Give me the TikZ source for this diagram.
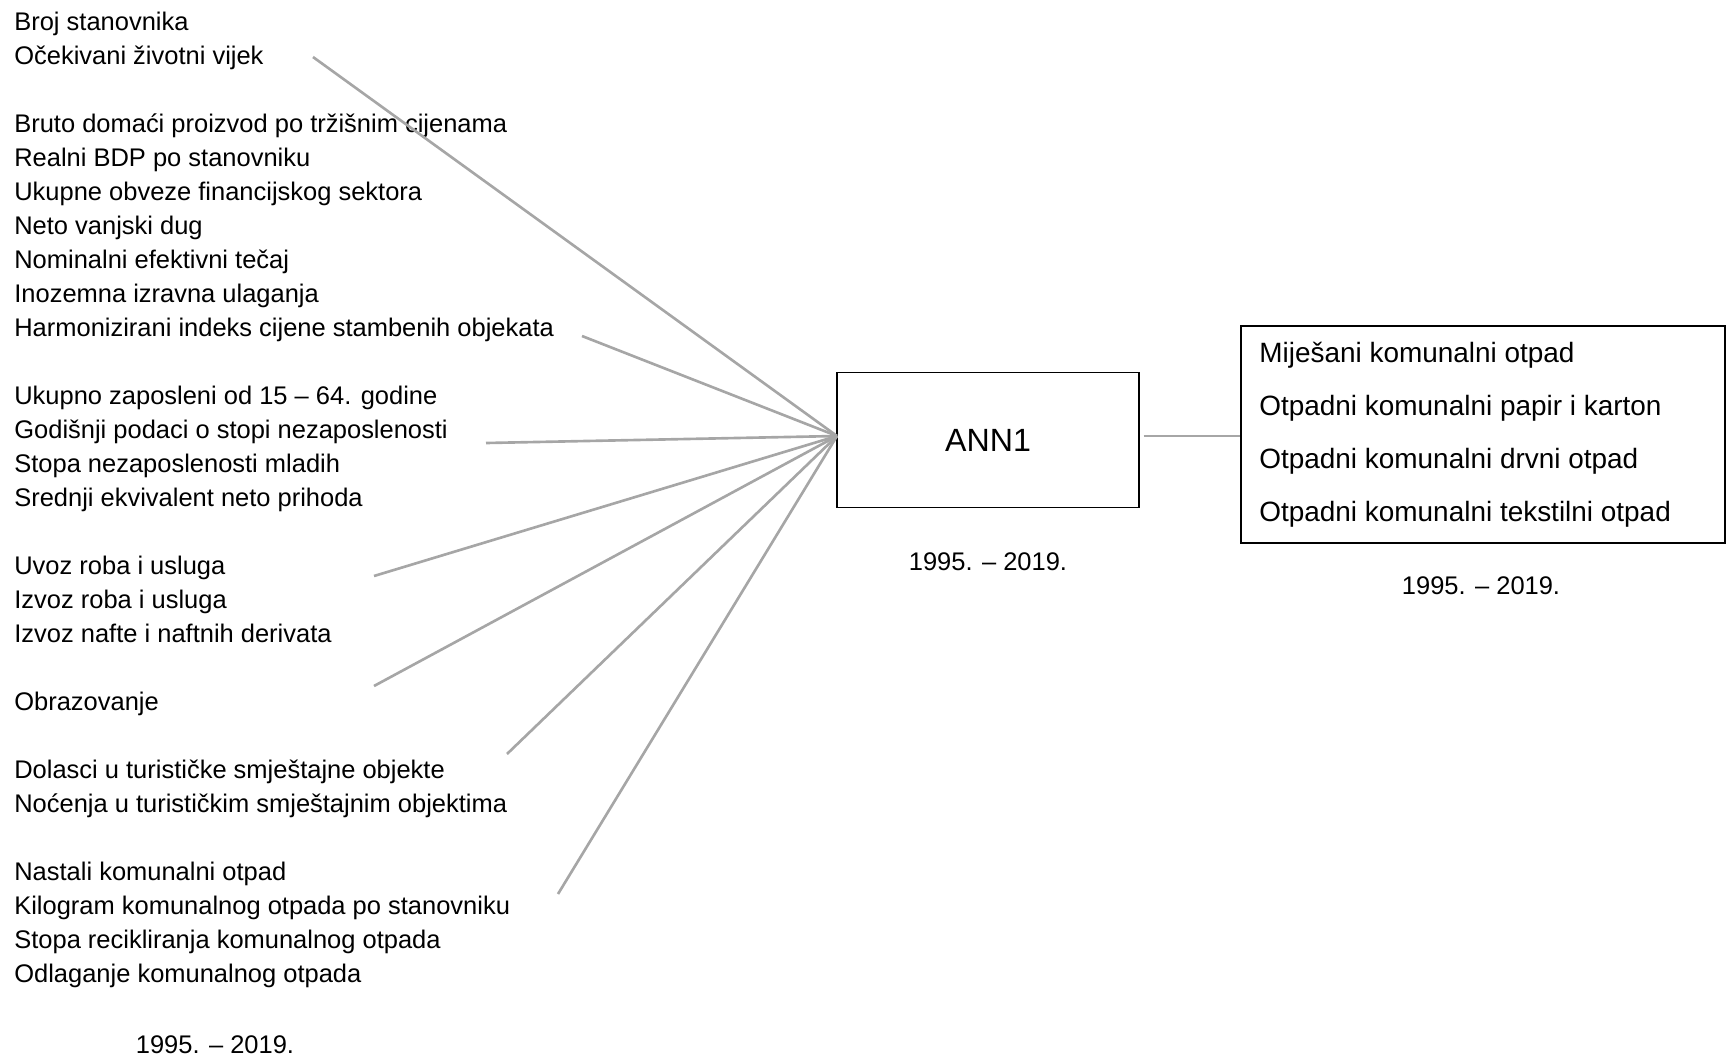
\documentclass[tikz,border=0pt]{standalone}
\usepackage{fontspec}
\setmainfont{Liberation Sans}
\usetikzlibrary{positioning}

\begin{document}
\begin{tikzpicture}[x=0.02cm, y=-0.02cm,
        group/.style={anchor=north west, align=left, inner sep=0pt, font=\fontsize{14.5}{19.35}\selectfont},
        period/.style={inner sep=0pt, font=\fontsize{14.5}{17}\selectfont},
        outvar/.style={anchor=west, inner sep=0pt, font=\fontsize{15.9}{19}\selectfont},
        link/.style={draw=gray!70, line width=1.5pt}]
        \useasboundingbox (0,0) rectangle (1727,1062);

        % input groups
        \node [group] (demog) at (14,6) {\strut Broj stanovnika\\Očekivani životni vijek};
        \node [group] (econ) at (14,108) {\strut Bruto domaći proizvod po tržišnim cijenama\\Realni BDP po stanovniku\\Ukupne obveze financijskog sektora\\Neto vanjski dug\\Nominalni efektivni tečaj\\Inozemna izravna ulaganja\\Harmonizirani indeks cijene stambenih objekata};
        \node [group] (labour) at (14,380) {\strut Ukupno zaposleni od 15 – 64. godine\\Godišnji podaci o stopi nezaposlenosti\\Stopa nezaposlenosti mladih\\Srednji ekvivalent neto prihoda};
        \node [group] (trade) at (14,550) {\strut Uvoz roba i usluga\\Izvoz roba i usluga\\Izvoz nafte i naftnih derivata};
        \node [group] (edu) at (14,686) {\strut Obrazovanje};
        \node [group] (tour) at (14,754) {\strut Dolasci u turističke smještajne objekte\\Noćenja u turističkim smještajnim objektima};
        \node [group] (waste) at (14,856) {\strut Nastali komunalni otpad\\Kilogram komunalnog otpada po stanovniku\\Stopa recikliranja komunalnog otpada\\Odlaganje komunalnog otpada};
        \node [period] (inyears) at (215,1045) {1995. – 2019.};

        % network
        \node [draw, line width=0.7pt, minimum width=6.04cm, minimum height=2.7cm, font=\fontsize{18.3}{22}\selectfont] (ann) at (988,440) {ANN1};
        \node [period, below=0.88cm of ann.south] (annyears) {1995. – 2019.};

        % outputs
        \node [draw, line width=0.7pt, minimum width=9.68cm, minimum height=4.34cm] (out) at (1483,434.5) {};
        \node [outvar] (o1) at (1259,355) {Miješani komunalni otpad};
        \node [outvar] (o2) at (1259,408) {Otpadni komunalni papir i karton};
        \node [outvar] (o3) at (1259,461) {Otpadni komunalni drvni otpad};
        \node [outvar] (o4) at (1259,514) {Otpadni komunalni tekstilni otpad};
        \node [period] (outyears) at (1481,586) {1995. – 2019.};

        % line ends
        \coordinate (s1) at (313,57);
        \coordinate (s2) at (582,336);
        \coordinate (s3) at (486,443);
        \coordinate (s4) at (374,576);
        \coordinate (s5) at (374,686);
        \coordinate (s6) at (507,754);
        \coordinate (s7) at (558,894);
        \coordinate (a1) at (837,436);

        \draw [link] (s1) -- (a1);
        \draw [link] (s2) -- (a1);
        \draw [link] (s3) -- (a1);
        \draw [link] (s4) -- (a1);
        \draw [link] (s5) -- (a1);
        \draw [link] (s6) -- (a1);
        \draw [link] (s7) -- (a1);
        \draw [link] (ann.east |- a1) ++(4,0) -- (out.west |- a1);
    \end{tikzpicture}
\end{document}
